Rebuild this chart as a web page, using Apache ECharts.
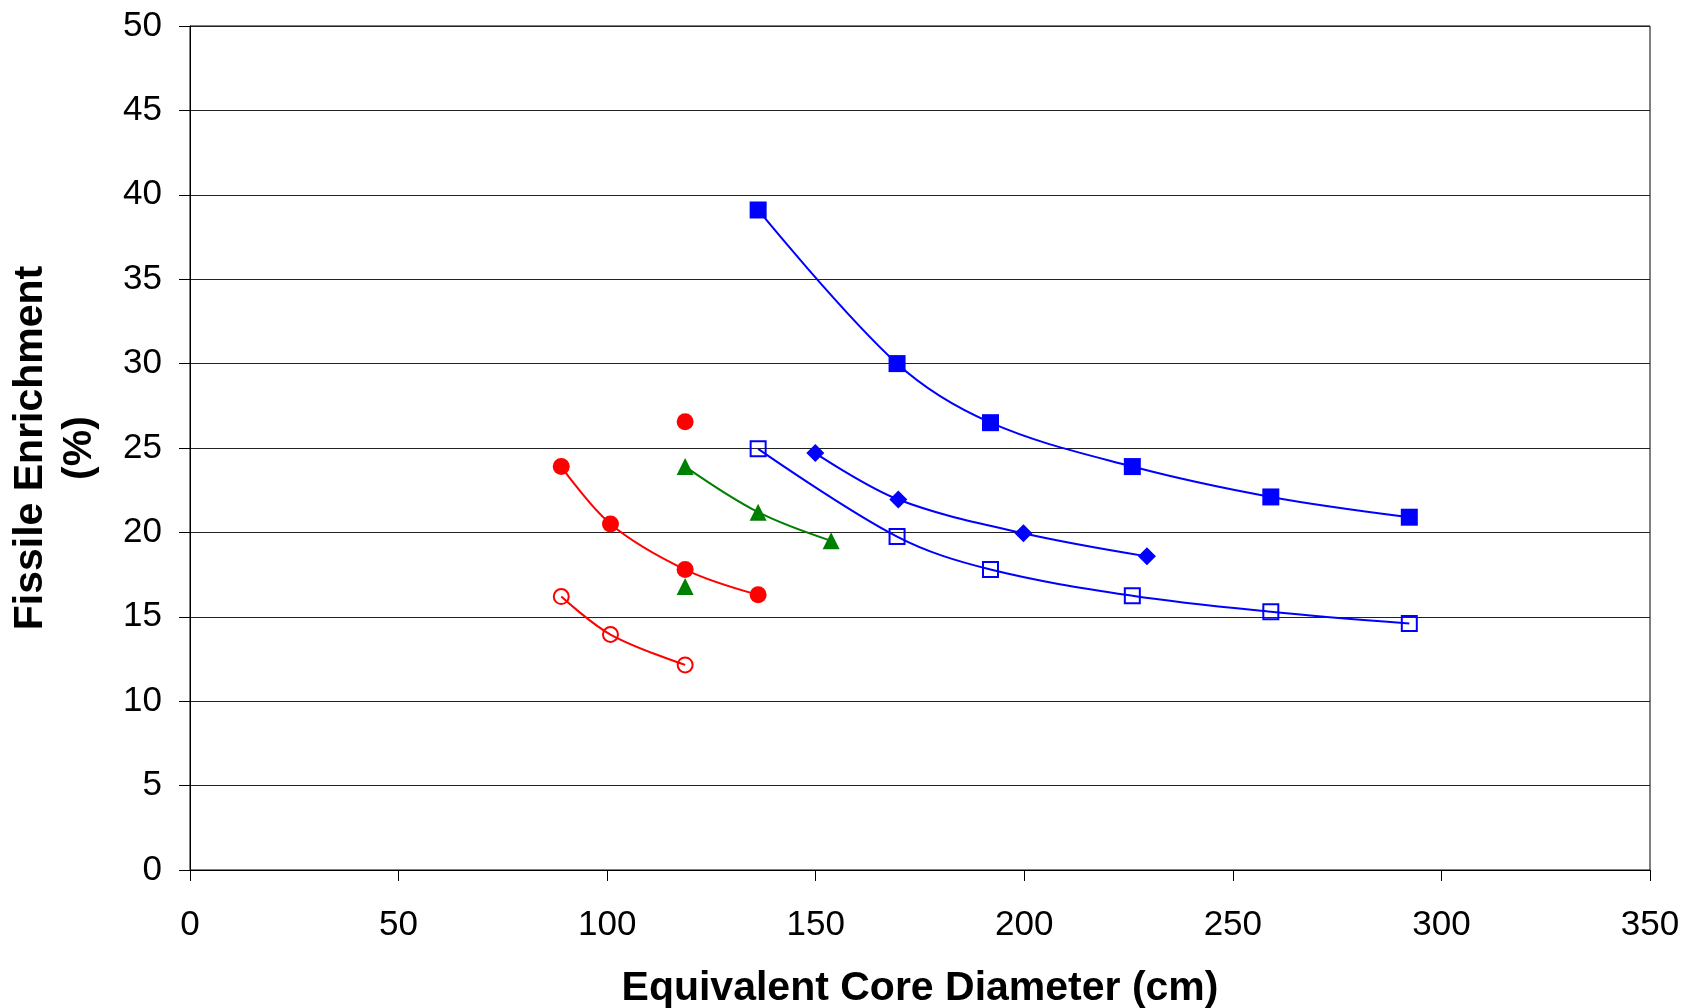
<!DOCTYPE html>
<html>
<head>
<meta charset="utf-8">
<title>Fissile Enrichment vs Core Diameter</title>
<script src="https://cdn.jsdelivr.net/npm/echarts@6/dist/echarts.min.js"></script>
<style>
  html, body { margin: 0; padding: 0; background: #fff; }
  #chart { width: 1684px; height: 1008px; }
</style>
</head>
<body>
<div id="chart"></div>
<script>
// axis ticks
const xTicks = [0, 50, 100, 150, 200, 250, 300, 350];
const yTicks = [0, 5, 10, 15, 20, 25, 30, 35, 40, 45, 50];

// blue filled squares
const blueSqX = [136.2, 169.5, 191.9, 225.9, 259.1, 292.3];
const blueSqY = [39.1, 30.0, 26.5, 23.9, 22.1, 20.9];
// blue open squares
const blueOpenX = [136.2, 169.5, 191.9, 225.9, 259.1, 292.3];
const blueOpenY = [24.95, 19.75, 17.8, 16.25, 15.3, 14.6];
// blue diamonds
const blueDiaX = [149.9, 169.8, 199.8, 229.4];
const blueDiaY = [24.7, 21.95, 19.95, 18.58];
// green triangles (line)
const greenX = [118.7, 136.2, 153.7];
const greenY = [23.9, 21.2, 19.5];
// green triangle, single
const greenSoloX = [118.7];
const greenSoloY = [16.8];
// red filled circles (line)
const redX = [89.0, 100.8, 118.7, 136.2];
const redY = [23.9, 20.5, 17.8, 16.3];
// red filled circle, single
const redSoloX = [118.7];
const redSoloY = [26.55];
// red open circles
const redOpenX = [89.0, 100.8, 118.7];
const redOpenY = [16.2, 13.95, 12.15];

const zip = (xs, ys) => xs.map((x, i) => [x, ys[i]]);

const BLUE = '#0000ff';
const RED = '#ff0000';
const GREEN = '#008000';
const FONT = '"Liberation Sans", Arial, sans-serif';

function lineSeries(name, xs, ys, color, symbol, size, hollow) {
	return {
		name: name,
		type: 'line',
		data: zip(xs, ys),
		smooth: 0.35,
		symbol: symbol,
		symbolSize: size,
		showSymbol: true,
		lineStyle: { color: color, width: 2 },
		itemStyle: hollow
			? { color: 'rgba(0,0,0,0)', borderColor: color, borderWidth: 2 }
			: { color: color, borderWidth: 0 },
		emphasis: { disabled: true },
		z: 3,
	};
}

function soloSeries(name, xs, ys, color, symbol) {
	return {
		name: name,
		type: 'scatter',
		data: zip(xs, ys),
		symbol: symbol,
		symbolSize: 17,
		itemStyle: { color: color, opacity: 1 },
		emphasis: { disabled: true },
		z: 3,
	};
}

const myChart = echarts.init(document.getElementById('chart'));

const option = {
	animation: false,
	backgroundColor: '#fff',
	grid: {
		left: 190,
		right: 34,
		top: 26,
		bottom: 138,
		containLabel: false,
		outerBoundsMode: 'none',
		show: true,
		borderColor: '#000',
		borderWidth: 1,
	},
	xAxis: {
		type: 'value',
		min: xTicks[0],
		max: xTicks[xTicks.length - 1],
		interval: 50,
		name: 'Equivalent Core Diameter (cm)',
		nameLocation: 'middle',
		nameGap: 98,
		nameTextStyle: { fontFamily: FONT, fontSize: 41, fontWeight: 'bold', color: '#000' },
		axisLine: { show: true, onZero: false, lineStyle: { color: '#000', width: 1 } },
		axisTick: { show: true, inside: false, length: 11, lineStyle: { color: '#000' } },
		axisLabel: { fontFamily: FONT, fontSize: 35, color: '#000', margin: 38 },
		splitLine: { show: false },
	},
	yAxis: {
		type: 'value',
		min: yTicks[0],
		max: yTicks[yTicks.length - 1],
		interval: 5,
		name: 'Fissile Enrichment\n(%)',
		nameLocation: 'middle',
		nameRotate: 90,
		nameGap: 86,
		nameTextStyle: { fontFamily: FONT, fontSize: 41, fontWeight: 'bold', color: '#000', lineHeight: 49 },
		axisLine: { show: true, lineStyle: { color: '#000', width: 1 } },
		axisTick: { show: true, inside: false, length: 11, lineStyle: { color: '#000' } },
		axisLabel: { fontFamily: FONT, fontSize: 35, color: '#000', margin: 28 },
		splitLine: { show: true, lineStyle: { color: '#222', width: 1 } },
	},
	series: [
		lineSeries('blueFilled', blueSqX, blueSqY, BLUE, 'rect', 17, false),
		lineSeries('blueOpen', blueOpenX, blueOpenY, BLUE, 'rect', 15, true),
		lineSeries('blueDiamond', blueDiaX, blueDiaY, BLUE, 'diamond', 18, false),
		lineSeries('green', greenX, greenY, GREEN, 'triangle', 17, false),
		lineSeries('red', redX, redY, RED, 'circle', 17, false),
		lineSeries('redOpen', redOpenX, redOpenY, RED, 'circle', 15, true),
		soloSeries('greenSolo', greenSoloX, greenSoloY, GREEN, 'triangle'),
		soloSeries('redSolo', redSoloX, redSoloY, RED, 'circle'),
	],
};

myChart.setOption(option);
window.onresize = function () {
	myChart.resize();
};
</script>
</body>
</html>
